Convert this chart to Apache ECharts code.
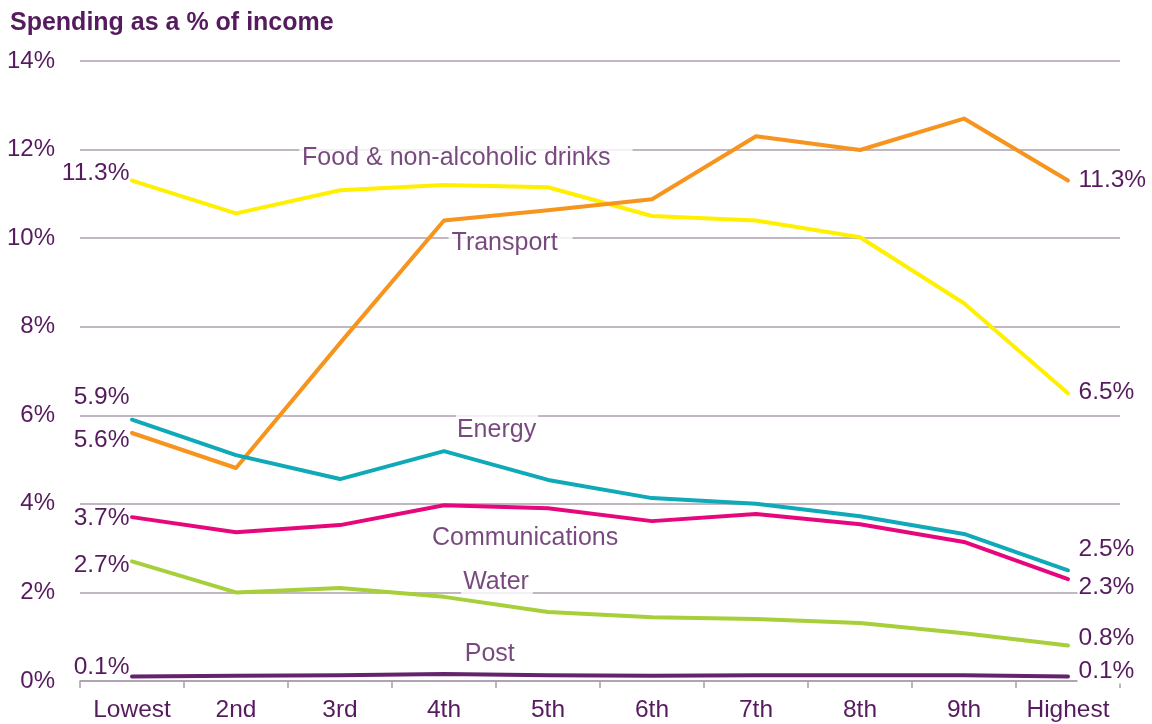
<!DOCTYPE html>
<html>
<head>
<meta charset="utf-8">
<title>Spending as a % of income</title>
<script src="https://cdn.jsdelivr.net/npm/echarts@6/dist/echarts.min.js"></script>
<style>
  html, body { margin: 0; padding: 0; background: #ffffff; }
  #chart { width: 1152px; height: 724px; }
</style>
</head>
<body>
<div id="chart"></div>
<script>
// Income deciles
const categories = ['Lowest', '2nd', '3rd', '4th', '5th', '6th', '7th', '8th', '9th', 'Highest'];

// Spending on each item as a % of income, by decile
const food = [11.3, 10.56, 11.08, 11.2, 11.15, 10.5, 10.4, 10.02, 8.53, 6.5];
const transport = [5.6, 4.81, 7.63, 10.4, 10.63, 10.88, 12.3, 11.99, 12.7, 11.3];
const energy = [5.9, 5.1, 4.56, 5.19, 4.54, 4.13, 4.0, 3.72, 3.32, 2.5];
const communications = [3.7, 3.36, 3.52, 3.97, 3.9, 3.61, 3.77, 3.54, 3.14, 2.3];
const water = [2.7, 2.0, 2.1, 1.9, 1.56, 1.44, 1.4, 1.31, 1.08, 0.8];
const post = [0.1, 0.12, 0.13, 0.16, 0.13, 0.12, 0.13, 0.13, 0.13, 0.1];

const yTicks = [0, 2, 4, 6, 8, 10, 12, 14];

const TEXT = '#561b5e';
const GRID = '#ab9fae';
const FONT = '"Liberation Sans", Arial, sans-serif';

// Per-series styling and end-label placement (label offsets in px)
const seriesDefs = [
  { name: 'Food & non-alcoholic drinks', data: food, color: '#fff000', left: -7, right: 0,
    anchor: [3.21, 11.81], pad: [5, 22, 1, 3] },
  { name: 'Transport', data: transport, color: '#f7941e', left: 8, right: 0,
    anchor: [3.64, 9.89], pad: [6, 15, 1, 3] },
  { name: 'Energy', data: energy, color: '#0fa9b8', left: -22, right: -21,
    anchor: [3.51, 5.67], pad: [8, 2, 1, 1] },
  { name: 'Communications', data: communications, color: '#e6077c', left: 2, right: 9,
    anchor: [3.78, 3.23], pad: [1, 2, 1, 2] },
  { name: 'Water', data: water, color: '#a6cf3a', left: 4, right: -7,
    anchor: [3.51, 2.24], pad: [1, 4, 8, 2] },
  { name: 'Post', data: post, color: '#64236b', left: -9, right: -5,
    anchor: [3.44, 0.61], pad: [1, 2, 1, 2] }
];

function fmt(v) { return v.toFixed(1) + '%'; }

const lineSeries = seriesDefs.map(function (s) {
  const last = s.data.length - 1;
  return {
    type: 'line',
    name: s.name,
    data: s.data.map(function (v, i) {
      if (i === 0) {
        return { value: v, label: { show: true, position: [-2, s.left], align: 'right' } };
      }
      if (i === last) {
        return { value: v, label: { show: true, position: [10, s.right], align: 'left' } };
      }
      return v;
    }),
    symbol: 'circle',
    symbolSize: 1,
    showSymbol: true,
    itemStyle: { color: s.color },
    lineStyle: { color: s.color, width: 4, join: 'round', cap: 'round' },
    label: {
      show: false,
      formatter: function (p) { return fmt(p.value); },
      color: TEXT,
      fontFamily: FONT,
      fontSize: 24.5,
      verticalAlign: 'middle',
      backgroundColor: '#ffffff',
      padding: [0, 0, 0, 1]
    },
    emphasis: { disabled: true },
    animation: false,
    z: 3
  };
});

// Series names drawn inside the plot on a hidden linear x axis
const nameSeries = {
  type: 'scatter',
  xAxisIndex: 1,
  symbolSize: 0,
  data: seriesDefs.map(function (s) {
    return {
      value: s.anchor,
      label: {
        show: true,
        position: 'inside',
        formatter: s.name,
        color: TEXT,
        fontFamily: FONT,
        fontSize: 25,
        backgroundColor: '#ffffff',
        padding: s.pad
      }
    };
  }),
  emphasis: { disabled: true },
  animation: false,
  z: 2
};

const chart = echarts.init(document.getElementById('chart'), null, { renderer: 'canvas' });

chart.setOption({
  backgroundColor: '#ffffff',
  animation: false,
  title: {
    text: 'Spending as a % of income',
    left: 5,
    top: 6,
    textStyle: { color: TEXT, fontFamily: FONT, fontSize: 25, fontWeight: 'bold' }
  },
  grid: { left: 80, right: 32, top: 61, bottom: 43, containLabel: false },
  xAxis: [
    {
      type: 'category',
      data: categories,
      boundaryGap: true,
      axisLine: { show: true, lineStyle: { color: GRID, width: 1.5 } },
      axisTick: { show: true, interval: 0, length: 7, lineStyle: { color: GRID, width: 1.5 } },
      axisLabel: { interval: 0, color: TEXT, fontFamily: FONT, fontSize: 24.5, margin: 17 },
      splitLine: { show: false }
    },
    {
      type: 'value',
      min: -0.5,
      max: 9.5,
      show: false
    }
  ],
  yAxis: {
    type: 'value',
    min: yTicks[0],
    max: yTicks[yTicks.length - 1],
    interval: 2,
    axisLine: { show: false },
    axisTick: { show: false },
    axisLabel: {
      color: TEXT, fontFamily: FONT, fontSize: 24, margin: 25,
      formatter: function (v) { return v + '%'; }
    },
    splitLine: { show: true, lineStyle: { color: GRID, width: 1.5 } }
  },
  series: lineSeries.concat([nameSeries])
});
</script>
</body>
</html>
